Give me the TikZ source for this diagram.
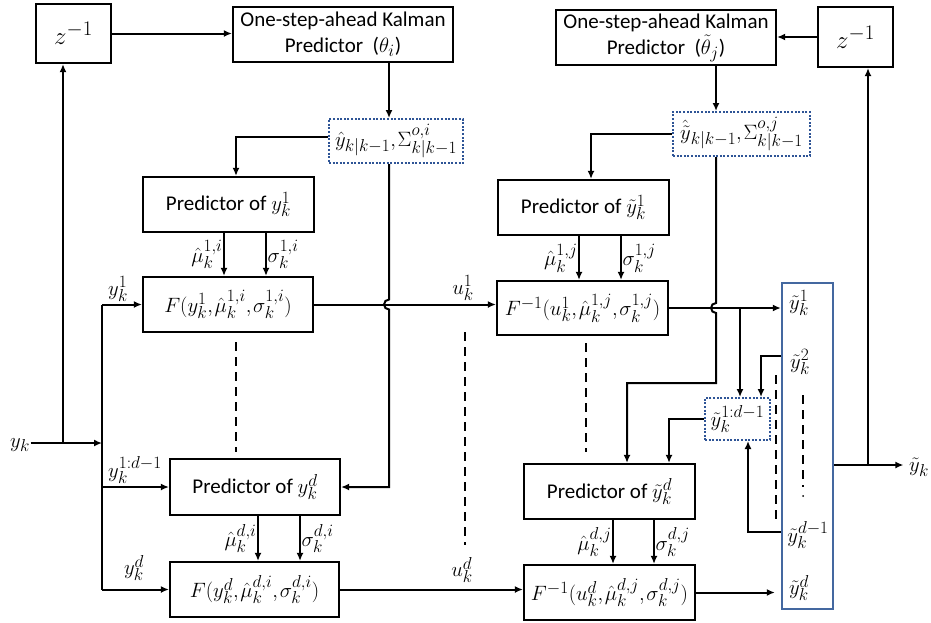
\documentclass[tikz,border=0pt]{standalone}
\usepackage{fontspec}
\setmainfont{Carlito}
\DeclareMathSizes{21}{22}{16.5}{12.5}
\thinmuskip=1.5mu
\usetikzlibrary{arrows.meta,calc}
\definecolor{boxblue}{RGB}{68,104,160}
\definecolor{dotblue}{RGB}{46,84,150}
\begin{document}
\begin{tikzpicture}[x=1pt,y=-1pt,
  every node/.style={font=\fontsize{21}{26}\selectfont},
  blk/.style={draw,line width=2.2pt,inner sep=0pt,align=center},
  dotbox/.style={draw=dotblue,line width=2pt,dash pattern=on 2pt off 1.6pt,inner sep=0pt},
  arr/.style={line width=2pt,-{Latex[length=8pt,width=7pt]}},
  ln/.style={line width=2pt},
  dsh/.style={line width=2.2pt,dash pattern=on 9pt off 6pt},
  lab/.style={inner sep=0.5pt}
]
\useasboundingbox (0,0) rectangle (931,622);
% ---------- left half ----------
\node[blk,minimum width=75pt,minimum height=59pt] (zL) at (73.5,33.5) {\fontsize{28}{28}\selectfont$z^{-1}$};
\node[blk,minimum width=220pt,minimum height=55pt] (kalL) at (343,34.5) {One-step-ahead Kalman\\Predictor~ ($\theta_i$)};
\node[dotbox,minimum width=134pt,minimum height=44pt] (dotL) at (396,141) {$\hat y_{k|k-1},\Sigma^{o,i}_{k|k-1}$};
\node[blk,minimum width=171pt,minimum height=55pt] (predL1) at (228.5,204.5) {Predictor of $y_k^1$};
\node[blk,minimum width=170pt,minimum height=55pt] (FL1) at (228,304.5) {$F(y_k^1,\hat\mu_k^{1,i},\sigma_k^{1,i})$};
\node[blk,minimum width=170pt,minimum height=56pt] (predLd) at (255,487) {Predictor of $y_k^d$};
\node[blk,minimum width=169pt,minimum height=55pt] (FLd) at (254.5,589.5) {$F(y_k^d,\hat\mu_k^{d,i},\sigma_k^{d,i})$};
% ---------- right half ----------
\node[blk,minimum width=220pt,minimum height=55pt] (kalR) at (666,37.5) {One-step-ahead Kalman\\Predictor~ ($\tilde\theta_j$)};
\node[blk,minimum width=75pt,minimum height=60pt] (zR) at (855.5,37) {\fontsize{28}{28}\selectfont$z^{-1}$};
\node[dotbox,minimum width=137pt,minimum height=44pt] (dotR) at (741.5,134) {$\hat{\tilde y}_{k|k-1},\Sigma^{o,j}_{k|k-1}$};
\node[blk,minimum width=171pt,minimum height=55pt] (predR1) at (583.5,207.5) {Predictor of $\tilde y_k^1$};
\node[blk,minimum width=171pt,minimum height=54pt] (FR1) at (582.5,308) {$F^{-1}(u_k^1,\hat\mu_k^{1,j},\sigma_k^{1,j})$};
\node[blk,minimum width=171pt,minimum height=55pt] (predRd) at (609.5,491.5) {Predictor of $\tilde y_k^d$};
\node[blk,minimum width=171pt,minimum height=55pt] (FRd) at (609.5,592.5) {$F^{-1}(u_k^d,\hat\mu_k^{d,j},\sigma_k^{d,j})$};
\node[draw=boxblue,line width=2.4pt,minimum width=51pt,minimum height=326pt,inner sep=0pt] (ybox) at (807.5,446) {};
\node[dotbox,minimum width=65pt,minimum height=42pt] (dotmid) at (737.5,419) {$\tilde y_k^{1:d-1}$};
% labels inside the blue box
\node[lab] (yt1) at (799,303) {$\tilde y_k^1$};
\node[lab] (yt2) at (800,362) {$\tilde y_k^2$};
\node[lab] (ytd1) at (808,535) {$\tilde y_k^{d-1}$};
\node[lab] (ytd) at (799,588) {$\tilde y_k^d$};
% free labels
\node[lab] (yk) at (20,445) {$y_k$};
\node[lab] (ytk) at (919,467) {$\tilde y_k$};
\node[lab] (ly1) at (118,289) {$y_k^1$};
\node[lab] (ly1d) at (135,470) {$y_k^{1:d-1}$};
\node[lab] (lyd) at (134,568) {$y_k^d$};
\node[lab] (lu1) at (463,288) {$u_k^1$};
\node[lab] (lud) at (462,570) {$u_k^d$};
% helper coordinates
\coordinate (cL) at (389,0);
\coordinate (cR) at (716,0);
\coordinate (k0) at (236,0);
\coordinate (bus) at (102,0);
\coordinate (jL) at (63,0);
\coordinate (jR) at (868,0);
\coordinate (k1) at (591,0);
\coordinate (k2) at (627,0);
\coordinate (bendR) at (716,383);
\coordinate (k3) at (740,0);
\coordinate (k4) at (761,356);
\coordinate (k5) at (748,532);
\coordinate (k6) at (669,0);
\coordinate (yin) at ([yshift=2pt]yk.east);
\coordinate (yout) at ([yshift=2pt]ytk.west);
% ---------- left connectors ----------
\draw[arr] (zL.east) -- (zL.east -| kalL.west);
\draw[arr] (kalL.south -| cL) -- (dotL.north -| cL);
\draw[arr] ([yshift=4pt]dotL.west) -- ([yshift=4pt]dotL.west -| k0) -- (predL1.north -| k0);
\draw[arr] (dotL.south -| cL) -- ($(FL1.east -| cL)+(0,-5)$) arc[start angle=90,end angle=270,radius=5pt] -- (predLd.east -| cL) -- (predLd.east);
\draw[arr] ([xshift=-4.5pt]predL1.south) -- ([xshift=-4.5pt]predL1.south |- FL1.north) node[midway,left,lab] {$\hat\mu_k^{1,i}$};
\draw[arr] ([xshift=37.5pt]predL1.south) -- ([xshift=37.5pt]predL1.south |- FL1.north) node[midway,right,lab] {$\sigma_k^{1,i}$};
\draw[arr] ([xshift=3pt]predLd.south) -- ([xshift=3pt]predLd.south |- FLd.north) node[midway,left,lab] {$\hat\mu_k^{d,i}$};
\draw[arr] ([xshift=45pt]predLd.south) -- ([xshift=45pt]predLd.south |- FLd.north) node[midway,right,lab] {$\sigma_k^{d,i}$};
\draw[arr] (yin) -- (yin -| bus);
\draw[arr] (jL |- yin) -- (jL |- zL.south);
\draw[ln] (bus |- FL1.west) -- (bus |- FLd.west);
\draw[arr] (bus |- FL1.west) -- (FL1.west);
\draw[arr] (bus |- predLd.west) -- (predLd.west);
\draw[arr] (bus |- FLd.west) -- (FLd.west);
\draw[arr] (FL1.east) -- (FL1.east -| FR1.west);
\draw[arr] (FLd.east) -- (FLd.east -| FRd.west);
\draw[dsh] (236,342) -- (236,452);
\draw[dsh] (465,332) -- (465,545);
% ---------- right connectors ----------
\draw[arr] (zR.west) -- (zR.west -| kalR.east);
\draw[arr] (kalR.south -| cR) -- (dotR.north -| cR);
\draw[arr] (dotR.west) -- (dotR.west -| k1) -- (predR1.north -| k1);
\draw[arr] (dotR.south -| cR) -- ($(FR1.east -| cR)+(0,-5)$) arc[start angle=90,end angle=270,radius=5pt] -- (bendR) -- (bendR -| k2) -- (predRd.north -| k2);
\draw[arr] ([xshift=-4.5pt]predR1.south) -- ([xshift=-4.5pt]predR1.south |- FR1.north) node[midway,left,lab] {$\hat\mu_k^{1,j}$};
\draw[arr] ([xshift=37.5pt]predR1.south) -- ([xshift=37.5pt]predR1.south |- FR1.north) node[midway,right,lab] {$\sigma_k^{1,j}$};
\draw[arr] ([xshift=3.5pt]predRd.south) -- ([xshift=3.5pt]predRd.south |- FRd.north) node[midway,left,lab] {$\hat\mu_k^{d,j}$};
\draw[arr] ([xshift=44.5pt]predRd.south) -- ([xshift=44.5pt]predRd.south |- FRd.north) node[midway,right,lab] {$\sigma_k^{d,j}$};
\draw[arr] (FR1.east) -- (FR1.east -| ybox.west);
\draw[arr] (FR1.east -| k3) -- (dotmid.north -| k3);
\draw[arr] (ybox.west |- k4) -- (k4) -- (k4 |- dotmid.north);
\draw[arr] (ybox.west |- k5) -- (k5) -- (k5 |- dotmid.south);
\draw[arr] (dotmid.west) -- (dotmid.west -| k6) -- (predRd.north -| k6);
\draw[arr,shorten >=6pt] (FRd.east) -- (FRd.east -| ybox.west);
\draw[arr,shorten >=5pt] (yout -| ybox.east) -- (yout);
\draw[arr] (jR |- yout) -- (jR |- zR.south);
\draw[dsh] (586,343) -- (586,452);
\draw[dsh] (776,375) -- (776,520);
\draw[dsh] (803,395) -- (803,487);
\fill (803,496) circle (1pt);
\end{tikzpicture}
\end{document}
